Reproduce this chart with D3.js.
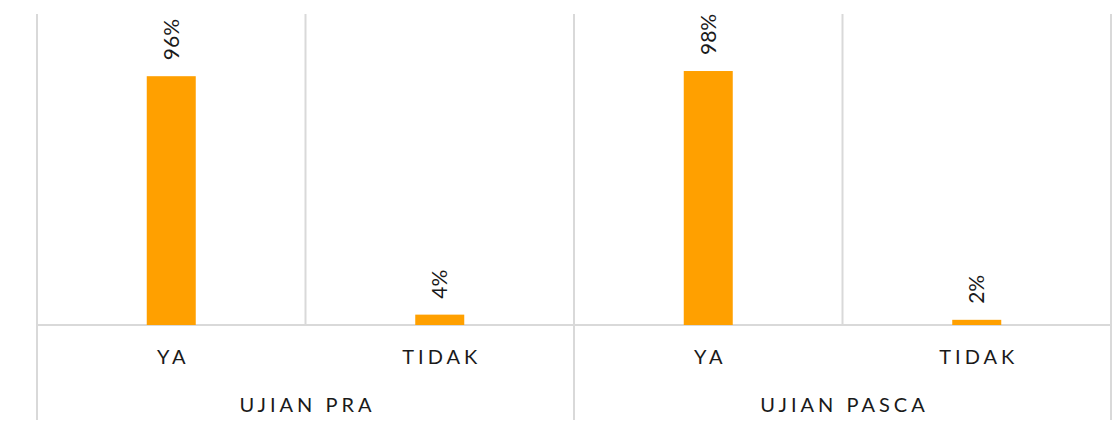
<!DOCTYPE html>
<html>
<head>
<meta charset="utf-8">
<script src="https://cdn.jsdelivr.net/npm/d3@7"></script>
<style>
  body { margin: 0; background: #fff; }
  text { font-family: Lato, "Open Sans", sans-serif; fill: #1a1a1a; }
</style>
</head>
<body>
<div class="container"></div>
<script>
// chart data
const groups = ["UJIAN PRA", "UJIAN PASCA"];
const categories = ["YA", "TIDAK"];
const praValues = [0.96, 0.04];
const pascaValues = [0.98, 0.02];
const yMax = 1.2;

const w = 1119;
const h = 423;
const plotLeft = 37, plotRight = 1111, plotTop = 14, base = 325, plotBottom = 420;

let dataset = [];
const seriesValues = [praValues, pascaValues];
for (let g = 0; g < groups.length; g++) {
  for (let c = 0; c < categories.length; c++) {
    dataset.push({ group: groups[g], cat: categories[c], key: groups[g] + "|" + categories[c], value: seriesValues[g][c] });
  }
}

const xScale = d3.scaleBand()
                 .domain(dataset.map((d) => d.key))
                 .range([plotLeft, plotRight])
                 .paddingInner(0.8175)
                 .paddingOuter(0.40875);
const groupScale = d3.scaleBand()
                     .domain(groups)
                     .range([plotLeft, plotRight]);
const yScale = d3.scaleLinear()
                 .domain([0, yMax])
                 .range([base, plotTop]);
const fmt = d3.format(".0%");

const svg = d3.select(".container")
              .append("svg")
              .attr("width", w)
              .attr("height", h);

const step = xScale.step();
const cellEdges = d3.range(dataset.length + 1).map((i) => plotLeft + i * step);

// vertical gridlines in plot area
svg.selectAll("line.grid")
  .data(cellEdges)
  .enter()
  .append("line")
  .attr("class", "grid")
  .attr("x1", (d) => d).attr("x2", (d) => d)
  .attr("y1", yScale(yMax)).attr("y2", base)
  .attr("stroke", "#d9d9d9")
  .attr("stroke-width", 2);

// group separators below the axis
const groupEdges = groups.map((g) => groupScale(g)).concat([plotRight]);
svg.selectAll("line.sep")
  .data(groupEdges)
  .enter()
  .append("line")
  .attr("class", "sep")
  .attr("x1", (d) => d).attr("x2", (d) => d)
  .attr("y1", base).attr("y2", plotBottom)
  .attr("stroke", "#d9d9d9")
  .attr("stroke-width", 2);

// baseline
svg.append("line")
  .attr("x1", plotLeft).attr("x2", plotRight)
  .attr("y1", yScale(0)).attr("y2", yScale(0))
  .attr("stroke", "#d9d9d9")
  .attr("stroke-width", 2);

svg.selectAll("rect")
  .data(dataset)
  .enter()
  .append("rect")
  .attr("x", (d) => xScale(d.key))
  .attr("y", (d) => yScale(d.value))
  .attr("width", xScale.bandwidth())
  .attr("height", (d) => yScale(0) - yScale(d.value))
  .attr("fill", "#ffa000");

// value labels, rotated
svg.selectAll("text.val")
  .data(dataset)
  .enter()
  .append("text")
  .attr("class", "val")
  .attr("transform", (d) => "translate(" + (xScale(d.key) + xScale.bandwidth() / 2) + "," + (yScale(d.value) - 16) + ") rotate(-90)")
  .attr("dy", "0.36em")
  .attr("font-size", "21px")
  .text((d) => fmt(d.value));

// category labels
svg.selectAll("text.cat")
  .data(dataset)
  .enter()
  .append("text")
  .attr("class", "cat")
  .attr("x", (d) => xScale(d.key) + xScale.bandwidth() / 2 + 2)
  .attr("y", 364)
  .attr("text-anchor", "middle")
  .attr("font-size", "20px")
  .attr("letter-spacing", "4px")
  .text((d) => d.cat);

// group labels
svg.selectAll("text.grp")
  .data(groups)
  .enter()
  .append("text")
  .attr("class", "grp")
  .attr("x", (d) => groupScale(d) + groupScale.bandwidth() / 2 + 2)
  .attr("y", 412)
  .attr("text-anchor", "middle")
  .attr("font-size", "20px")
  .attr("letter-spacing", "4px")
  .text((d) => d);
</script>
</body>
</html>
